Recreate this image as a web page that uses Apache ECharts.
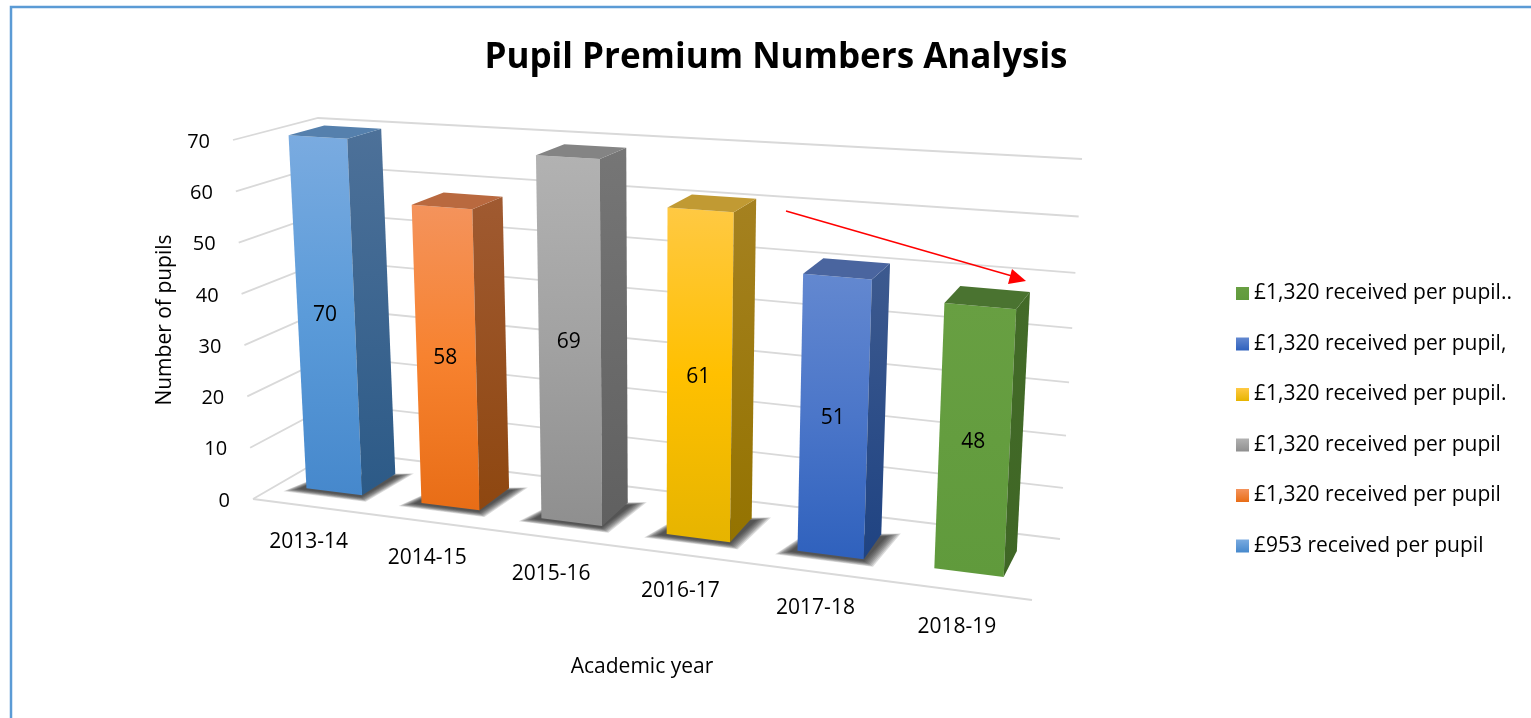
<!DOCTYPE html>
<html>
<head>
<meta charset="utf-8">
<title>Pupil Premium Numbers Analysis</title>
<script src="https://cdn.jsdelivr.net/npm/echarts@6/dist/echarts.min.js"></script>
<style>
  html, body { margin: 0; padding: 0; background: #fff; }
  #chart { width: 1531px; height: 718px; }
</style>
</head>
<body>
<div id="chart"></div>
<script>
const years = ["2013-14", "2014-15", "2015-16", "2016-17", "2017-18", "2018-19"];
const pupils = [70, 58, 69, 61, 51, 48];
const legendNames = [
  "£953 received per pupil",
  "£1,320 received per pupil ",
  "£1,320 received per pupil",
  "£1,320 received per pupil.",
  "£1,320 received per pupil,",
  "£1,320 received per pupil.."
];
const valueTicks = [0, 10, 20, 30, 40, 50, 60, 70];

// front / side / top colours per bar
const faces = [
  { front: ["#7aabe0", "#5b9bd9", "#4688cc"], side: ["#4d7199", "#2c5a87"], top: "#5580ad" },
  { front: ["#f4935c", "#f7822f", "#e86d16"], side: ["#a05a31", "#8e4710"], top: "#b9693f" },
  { front: ["#b2b2b2", "#a2a2a2", "#8f8f8f"], side: ["#767676", "#606060"], top: "#848484" },
  { front: ["#ffc943", "#ffc000", "#e6b400"], side: ["#a58120", "#947300"], top: "#c19a33" },
  { front: ["#6388d0", "#4b76c9", "#2f61bd"], side: ["#3d5a8f", "#1f4382"], top: "#4a659f" },
  { front: ["#689f42", "#649d3f", "#609a3c"], side: ["#436b28", "#3f6625"], top: "#4a7330" }
];

const FONT = '"Open Sans", sans-serif';
const gridRect = { left: 100, top: 100, width: 600, height: 350 };

// corners of the 3d box on screen (0 = floor, 1 = top of the axis)
const box = {
  fl0: [253, 499], fr0: [1032, 600], bl0: [336, 451], br0: [1060, 539],
  fl1: [233, 140], fr1: [1052, 190], bl1: [318, 118], br1: [1082, 159]
};

function lerp(a, b, k) {
  return [a[0] + (b[0] - a[0]) * k, a[1] + (b[1] - a[1]) * k];
}

// u along the category axis, t up the value axis, d into the depth, all 0..1
function project(u, t, d) {
  const f = u / (1 + 0.14 * (1 - u));
  const tw = t / (1 + 0.07 * f * (1 - t));
  const bottom = lerp(lerp(box.fl0, box.fr0, f), lerp(box.bl0, box.br0, f), d);
  const top = lerp(lerp(box.fl1, box.fr1, f), lerp(box.bl1, box.br1, f), d);
  return lerp(bottom, top, tw);
}

// screen position in the hidden grid -> 0..1 box position
function toU(x) {
  return (x - gridRect.left) / gridRect.width;
}
function toT(y) {
  return (gridRect.top + gridRect.height - y) / gridRect.height;
}

function vGrad(stops) {
  return new echarts.graphic.LinearGradient(0, 0, 0, 1, stops.map(function (c, i) {
    return { offset: i / (stops.length - 1), color: c };
  }));
}

function poly(points, fill) {
  return {
    type: "polygon",
    shape: { points: points },
    style: { fill: fill }
  };
}

const DEPTH0 = 0.3, DEPTH1 = 0.73;

function renderBar(params, api) {
  const i = api.value(0);
  const v = api.value(1);
  const cx = api.coord([i, 0])[0];
  const half = api.size([1, 0])[0] * 0.245;
  const u0 = toU(cx - half), u1 = toU(cx + half);
  const t = toT(api.coord([i, v])[1]);
  const face = faces[i];
  const children = [];

  // soft floor shadow from stacked see-through layers, the last bar has none
  if (i < years.length - 1) {
    for (let k = 0; k < 8; k++) {
      const e = (8 - k) * 0.002;
      children.push(poly([
        project(u0 - 0.006 - e, 0, DEPTH0 - 0.02 - e * 5),
        project(u1 + e, 0, DEPTH0 - 0.02 - e * 5),
        project(u1 + 0.006 + e, 0, DEPTH1 - 0.03 + e * 5),
        project(u0 - e * 0.4, 0, DEPTH0 + 0.2 + e * 5)
      ], "rgba(34,34,34,0.16)"));
    }
  }

  children.push(poly([
    project(u0, t, DEPTH0), project(u1, t, DEPTH0), project(u1, 0, DEPTH0), project(u0, 0, DEPTH0)
  ], vGrad(face.front)));
  children.push(poly([
    project(u1, t, DEPTH0), project(u1, t, DEPTH1), project(u1, 0, DEPTH1), project(u1, 0, DEPTH0)
  ], vGrad(face.side)));
  children.push(poly([
    project(u0, t, DEPTH0), project(u1, t, DEPTH0), project(u1, t, DEPTH1), project(u0, t, DEPTH1)
  ], face.top));

  const mid = project((u0 + u1) / 2, t / 2, DEPTH0);
  children.push({
    type: "text",
    z2: 10,
    style: {
      text: String(v), x: mid[0] - 1, y: mid[1], fill: "#000",
      font: "21px " + FONT, align: "center", verticalAlign: "middle"
    }
  });
  return { type: "group", children: children };
}

// one gridline per tick: down the side wall and across the back wall
function renderWall(params, api) {
  const t = toT(api.coord([0, api.value(0)])[1]);
  const lineStyle = { stroke: "#d9d9d9", lineWidth: 1.8, fill: null };
  const a = project(0, t, 0), b = project(0, t, 1), c = project(1, t, 1);
  const children = [{
    type: "polyline", shape: { points: [a, b, c] }, style: lineStyle
  }, {
    type: "text",
    style: {
      text: String(api.value(0)), x: a[0] - 23, y: a[1] + 2, fill: "#000",
      font: "20px " + FONT, align: "right", verticalAlign: "middle"
    }
  }];
  if (api.value(0) === 0) {
    children.push({
      type: "line",
      shape: { x1: a[0], y1: a[1], x2: project(1, 0, 0)[0], y2: project(1, 0, 0)[1] },
      style: lineStyle
    });
  }
  return { type: "group", children: children };
}

function renderYear(params, api) {
  const i = api.value(0);
  const p = project(toU(api.coord([i, 0])[0]), 0, 0);
  return {
    type: "text",
    style: {
      text: years[i], x: p[0] - 2, y: p[1] + 36, fill: "#000",
      font: "21px " + FONT, align: "center", verticalAlign: "middle"
    }
  };
}

const barSeries = years.map(function (y, i) {
  return {
    name: legendNames[i],
    type: "custom",
    coordinateSystem: "cartesian2d",
    renderItem: renderBar,
    itemStyle: { color: faces[i].front[1] },
    encode: { x: 0, y: 1 },
    z: 5,
    data: [[i, pupils[i]]]
  };
});

const option = {
  animation: false,
  backgroundColor: "#fff",
  title: {
    text: "Pupil Premium Numbers Analysis",
    left: 771,
    top: 36,
    textAlign: "center",
    textStyle: { fontFamily: FONT, fontSize: 35, fontWeight: "bold", color: "#000" }
  },
  grid: Object.assign({ show: false }, gridRect),
  xAxis: { type: "category", data: years, show: false },
  yAxis: { type: "value", min: 0, max: 70, interval: 10, show: false },
  legend: {
    orient: "vertical",
    left: 1231,
    top: 276,
    icon: "rect",
    itemWidth: 13,
    itemHeight: 13,
    itemGap: 25.5,
    selectedMode: false,
    data: legendNames.slice().reverse().map(function (name, k) {
      const face = faces[faces.length - 1 - k];
      return { name: name, itemStyle: { color: vGrad([face.front[0], face.front[2]]) } };
    }),
    textStyle: { fontFamily: FONT, fontSize: 21, color: "#000", lineHeight: 25 }
  },
  graphic: [
    {
      type: "polyline",
      shape: { points: [[11, 718], [11, 7], [1531, 7]] },
      style: { stroke: "#5b9bd5", lineWidth: 2.5, fill: null }
    },
    {
      type: "text", x: 165, y: 320, rotation: Math.PI / 2,
      style: { text: "Number of pupils", font: "21px " + FONT, fill: "#000", align: "center", verticalAlign: "middle" }
    },
    {
      type: "text", x: 642, y: 667,
      style: { text: "Academic year", font: "21px " + FONT, fill: "#000", align: "center", verticalAlign: "middle" }
    },
    // trend arrow drawn over the chart
    {
      type: "line", z: 20,
      shape: { x1: 786, y1: 211, x2: 1012, y2: 276 },
      style: { stroke: "#ff0000", lineWidth: 1.5 }
    },
    {
      type: "polygon", z: 20,
      shape: { points: [[1026, 281], [1012, 269], [1008, 284]] },
      style: { fill: "#ff0000" }
    }
  ],
  series: [
    {
      type: "custom",
      coordinateSystem: "cartesian2d",
      renderItem: renderWall,
      encode: { y: 0 },
      silent: true,
      z: 1,
      data: valueTicks.map(function (v) { return [v]; })
    },
    {
      type: "custom",
      coordinateSystem: "cartesian2d",
      renderItem: renderYear,
      encode: { x: 0 },
      silent: true,
      z: 1,
      data: years.map(function (y, i) { return [i]; })
    }
  ].concat(barSeries)
};

const chart = echarts.init(document.getElementById("chart"), null, { renderer: "canvas" });
chart.setOption(option);
</script>
</body>
</html>
